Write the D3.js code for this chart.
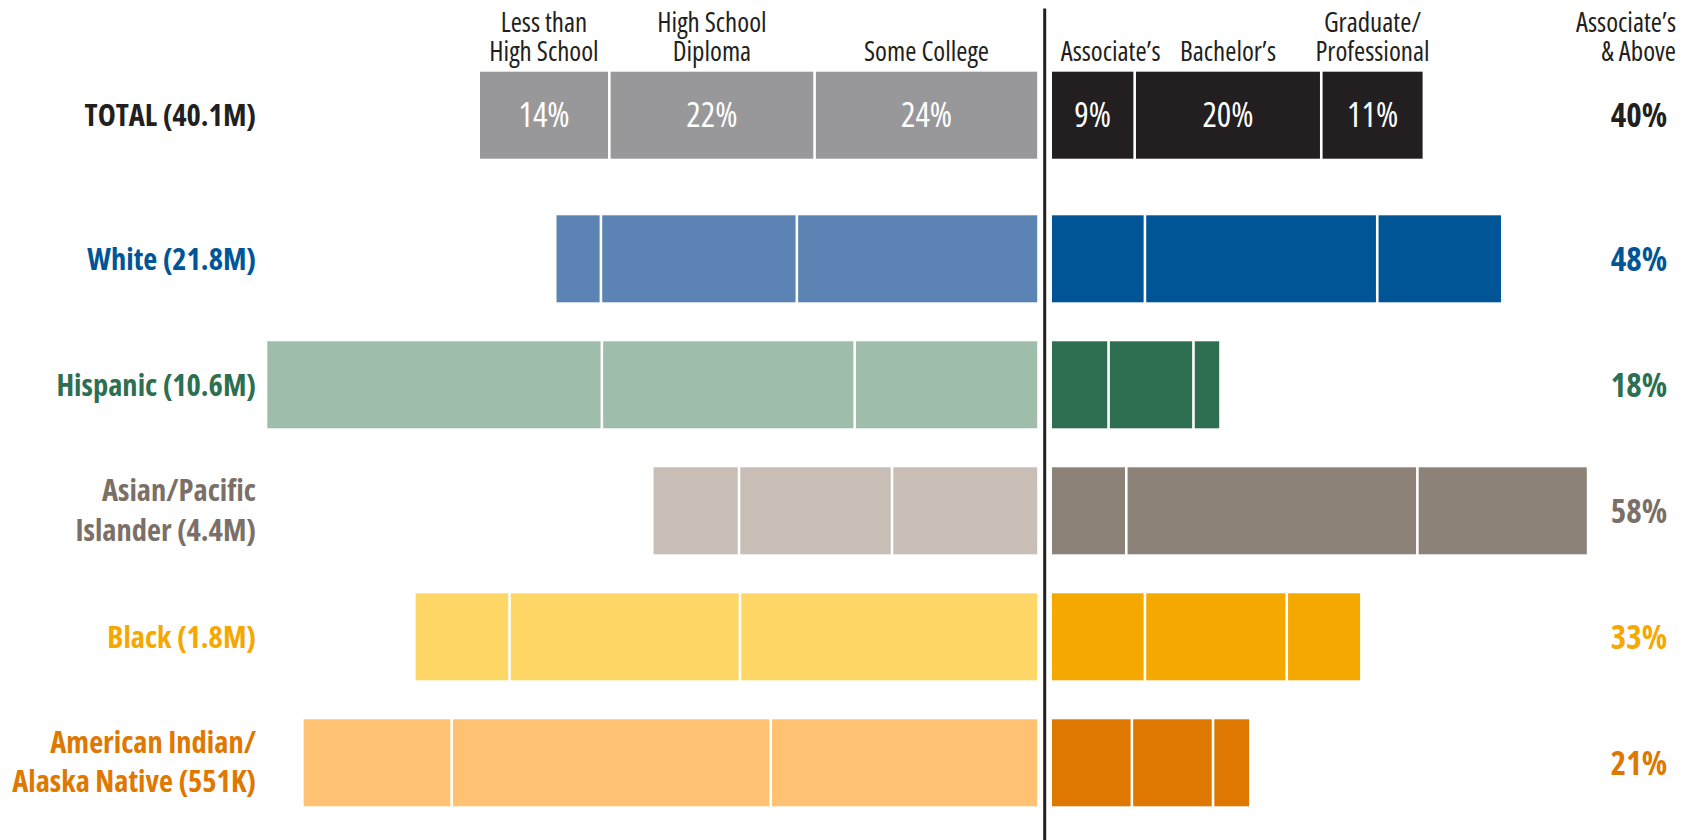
<!DOCTYPE html>
<html>
<head>
<meta charset="utf-8">
<script src="https://cdn.jsdelivr.net/npm/d3@7/dist/d3.min.js"></script>
<style>
  html, body { margin: 0; padding: 0; background: #ffffff; }
  svg { display: block; }
  text { font-family: "Open Sans", sans-serif; font-stretch: 75%; }
</style>
</head>
<body>
<svg id="chart" width="1692" height="840"></svg>
<script>
// Educational attainment by race/ethnicity (share of adults, %)
const groups = ["TOTAL", "White", "Hispanic", "Asian/Pacific Islander", "Black", "American Indian/Alaska Native"];
const groupLabels = [
  ["TOTAL (40.1M)"],
  ["White (21.8M)"],
  ["Hispanic (10.6M)"],
  ["Asian/Pacific", "Islander (4.4M)"],
  ["Black (1.8M)"],
  ["American Indian/", "Alaska Native (551K)"]
];

// Below associate's degree, listed from the centre line outward
const lowerLevels = ["Some College", "High School Diploma", "Less than High School"];
const lowerHeaders = [["Some College"], ["High School", "Diploma"], ["Less than", "High School"]];
const someCollege   = [24, 25.9, 19.7, 15.7, 32.0, 28.7];
const highSchool    = [22, 21.0, 27.1, 16.4, 24.7, 34.2];
const lessThanHS    = [14,  4.9, 36.0,  9.3, 10.2, 16.0];

// Associate's and above, listed from the centre line outward
const upperLevels = ["Associate's", "Bachelor's", "Graduate/Professional"];
const upperHeaders = [["Associate\u2019s"], ["Bachelor\u2019s"], ["Graduate/", "Professional"]];
const associates    = [9,  10.1, 6.2,  8.1, 10.1, 8.7];
const bachelors     = [20, 24.9, 9.1, 31.2, 15.2, 8.7];
const graduate      = [11, 13.4, 2.9, 18.3,  8.0, 4.0];

const summaryHeader = ["Associate\u2019s", "& Above"];

// Colours: label, light (below associate's), dark (associate's and above)
const labelColors = ["#231f20", "#005596", "#2e6f51", "#7b7067", "#f5a800", "#df7800"];
const lightColors = ["#98989a", "#5b84b5", "#9ebdab", "#c8beb5", "#ffd766", "#fec272"];
const darkColors  = ["#231f20", "#005596", "#2e6f51", "#8d8278", "#f5a800", "#df7800"];

const svg = d3.select("#chart");

const lowerSeries = [someCollege, highSchool, lessThanHS];
const upperSeries = [associates, bachelors, graduate];

// Horizontal scales: one running left from the centre line, one running right
const leftEdge = 1038.5, rightEdge = 1050.7, pxPerHundred = 933;
const xLeft = d3.scaleLinear().domain([0, 100]).range([leftEdge, leftEdge - pxPerHundred]);
const xRight = d3.scaleLinear().domain([0, 100]).range([rightEdge, rightEdge + pxPerHundred]);

// Vertical layout: the five groups share a band scale, TOTAL sits apart above them
const y = d3.scaleBand().domain(groups.slice(1)).range([215.3, 806.3]).paddingInner(0.3095).paddingOuter(0);
const totalTop = 71.7;
const rowTop = (g) => g === "TOTAL" ? totalTop : y(g);
const bh = y.bandwidth();
const gap = 1.3;

// Build stacked segments for each row
const rows = groups.map((g, i) => {
  const segs = [];
  let c = 0;
  lowerSeries.forEach((s, j) => {
    segs.push({ side: "L", level: lowerLevels[j], v: s[i], c0: c, c1: c + s[i] });
    c += s[i];
  });
  c = 0;
  upperSeries.forEach((s, j) => {
    segs.push({ side: "R", level: upperLevels[j], v: s[i], c0: c, c1: c + s[i] });
    c += s[i];
  });
  return { g, i, segs, upperTotal: c };
});

const rowG = svg.selectAll("g.row").data(rows).join("g")
  .attr("class", "row")
  .attr("transform", d => `translate(0,${rowTop(d.g)})`);

rowG.selectAll("rect").data(d => d.segs.map(s => Object.assign({ i: d.i }, s))).join("rect")
  .attr("x", s => s.side === "L" ? xLeft(s.c1) + gap : xRight(s.c0) + gap)
  .attr("width", s => Math.abs(xRight(s.c1) - xRight(s.c0)) - 2 * gap)
  .attr("y", 0)
  .attr("height", bh)
  .attr("fill", s => s.side === "L" ? lightColors[s.i] : darkColors[s.i]);

// Percent labels inside the TOTAL bar
const totalRow = rows[0];
svg.append("g").selectAll("text").data(totalRow.segs).join("text")
  .attr("x", s => s.side === "L" ? (xLeft(s.c0) + xLeft(s.c1)) / 2 : (xRight(s.c0) + xRight(s.c1)) / 2)
  .attr("y", totalTop + bh / 2 + 12.2)
  .attr("text-anchor", "middle")
  .attr("fill", "#ffffff")
  .attr("font-size", 34)
  .text(s => d3.format(".0f")(s.v) + "%");

// Group labels on the left
const labelG = svg.append("g");
rows.forEach(r => {
  const lines = groupLabels[r.i];
  const cy = rowTop(r.g) + bh / 2;
  const t = labelG.append("text")
    .attr("text-anchor", "end")
    .attr("fill", labelColors[r.i])
    .attr("font-size", 30.5)
    .attr("font-weight", "bold");
  const base = lines.length === 1 ? cy + 11 : cy - 9.8;
  lines.forEach((ln, k) => {
    t.append("tspan").attr("x", 256).attr("y", base + k * 39.5).text(ln);
  });
});

// "Associate's & Above" totals on the right
svg.append("g").selectAll("text").data(rows).join("text")
  .attr("x", 1639)
  .attr("y", r => rowTop(r.g) + bh / 2 + 11.8)
  .attr("text-anchor", "middle")
  .attr("fill", r => labelColors[r.i])
  .attr("font-size", 33)
  .attr("font-weight", "bold")
  .text(r => Math.round(r.upperTotal) + "%");

// Column headers, centred over the TOTAL segments
const headerG = svg.append("g").attr("fill", "#231f20").attr("font-size", 27);
const line2 = 61, lineStep = 29;
function header(lines, cx, anchor) {
  const t = headerG.append("text").attr("text-anchor", anchor || "middle");
  lines.forEach((ln, k) => {
    t.append("tspan").attr("x", cx).attr("y", line2 - (lines.length - 1 - k) * lineStep).text(ln);
  });
  return t;
}
totalRow.segs.forEach((s, j) => {
  const isLeft = s.side === "L";
  const cx = isLeft ? (xLeft(s.c0) + xLeft(s.c1)) / 2 : (xRight(s.c0) + xRight(s.c1)) / 2;
  const lines = isLeft ? lowerHeaders[j] : upperHeaders[j - 3];
  const t = header(lines, cx);
  // keep headers clear of the centre line
  const w = t.node().getBBox().width;
  if (!isLeft && cx - w / 2 < rightEdge + 10) {
    t.selectAll("tspan").attr("x", rightEdge + 10 + w / 2);
  }
});
header(summaryHeader, 1676, "end");

// Centre divider
svg.append("line")
  .attr("x1", 1044.7).attr("x2", 1044.7)
  .attr("y1", 8.6).attr("y2", 840)
  .attr("stroke", "#231f20")
  .attr("stroke-width", 3);
</script>
</body>
</html>
